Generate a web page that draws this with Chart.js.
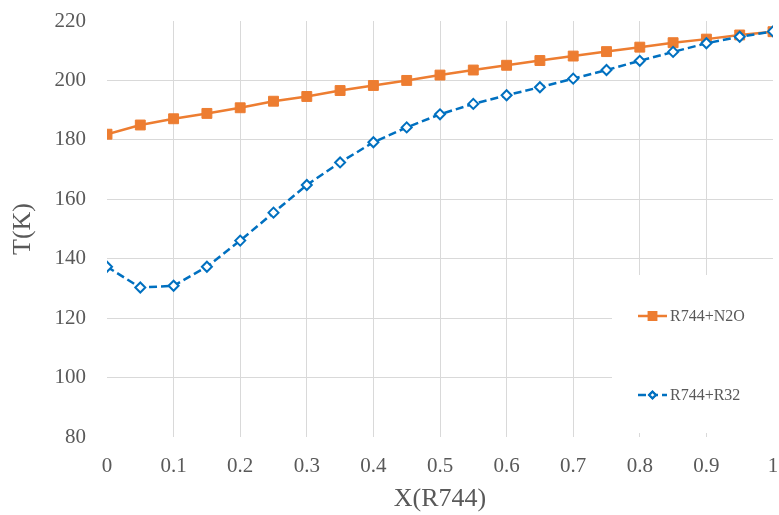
<!DOCTYPE html>
<html lang="en">

<head>
    <meta charset="UTF-8">
    <script src="https://cdn.jsdelivr.net/npm/chart.js"></script>
    <title>T vs X(R744)</title>
    <style>
        body { margin: 0; background: #fff; }
        canvas { display: block; }
    </style>
</head>

<body>
    <canvas id="grafico" width="779" height="515"></canvas>
</body>
<script>

    // composition of R744 (x axis)
    var fracR744 = [0, 0.05, 0.1, 0.15, 0.2, 0.25, 0.3, 0.35, 0.4, 0.45, 0.5,
        0.55, 0.6, 0.65, 0.7, 0.75, 0.8, 0.85, 0.9, 0.95, 1];

    // temperatures (K)
    var tempN2O = [181.9, 185.0, 187.1, 188.9, 190.8, 193.0, 194.6, 196.6, 198.3, 200.0, 201.8,
        203.5, 205.1, 206.7, 208.2, 209.7, 211.2, 212.7, 213.9, 215.3, 216.4];
    var tempR32 = [137.3, 130.3, 130.9, 137.3, 146.1, 155.5, 164.8, 172.4, 179.2, 184.2, 188.6,
        192.1, 195.0, 197.7, 200.6, 203.5, 206.6, 209.6, 212.5, 214.7, 216.5];

    var serieNomes = ['R744+N2O', 'R744+R32'];
    var xTickLabels = ['0', '0.1', '0.2', '0.3', '0.4', '0.5', '0.6', '0.7', '0.8', '0.9', '1'];
    var yMin = 80, yMax = 220, yStep = 20;
    var xMin = 0, xMax = 1, xStep = 0.1;

    var cinza = '#595959';
    var grade = '#d9d9d9';
    var fonte = '"Liberation Serif", "Times New Roman", serif';

    function pontos(valores) {
        let lista = [];
        for (let i = 0; i < fracR744.length; i++) {
            lista.push({ x: fracR744[i], y: valores[i] });
        }
        return lista;
    }

    // legend inside the plot, on a white box over the grid
    const legendaDentro = {
        id: 'legendaDentro',
        beforeDatasetsDraw(chart) {
            const ctx = chart.ctx;
            ctx.save();
            ctx.fillStyle = '#fff';
            ctx.fillRect(612, 275, chart.width - 612, 158);
            ctx.restore();
        },
        afterDraw(chart) {
            const ctx = chart.ctx;
            const linhas = [316, 395];
            ctx.save();
            chart.data.datasets.forEach(function (ds, i) {
                let y = linhas[i];
                ctx.strokeStyle = ds.borderColor;
                ctx.lineWidth = ds.borderWidth;
                ctx.setLineDash(ds.borderDash || []);
                ctx.beginPath();
                ctx.moveTo(638, y);
                ctx.lineTo(667, y);
                ctx.stroke();
                ctx.setLineDash([]);
                Chart.helpers.drawPoint(ctx, {
                    pointStyle: ds.pointStyle,
                    radius: i == 0 ? 5.2 : 3.2,
                    borderWidth: ds.pointBorderWidth,
                    rotation: 0
                }, 652.5, y);
                ctx.fillStyle = ds.pointBackgroundColor;
                ctx.strokeStyle = ds.pointBorderColor;
                ctx.lineWidth = ds.pointBorderWidth;
                ctx.fill();
                ctx.stroke();
                ctx.fillStyle = cinza;
                ctx.font = '16px ' + fonte;
                ctx.textBaseline = 'middle';
                ctx.fillText(ds.label, 670, y + 1);
            });
            ctx.restore();
        }
    };

    const ctx = document.getElementById('grafico').getContext('2d');
    new Chart(ctx, {
        type: 'line',
        data: {
            datasets: [
                {
                    label: serieNomes[0],
                    data: pontos(tempN2O),
                    borderColor: '#ED7D31',
                    backgroundColor: '#ED7D31',
                    borderWidth: 2.5,
                    pointStyle: 'rect',
                    pointRadius: 7,
                    pointBackgroundColor: '#ED7D31',
                    pointBorderColor: '#ED7D31',
                    pointBorderWidth: 1,
                    order: 1
                },
                {
                    label: serieNomes[1],
                    data: pontos(tempR32),
                    borderColor: '#0070C0',
                    backgroundColor: '#fff',
                    borderWidth: 2.5,
                    borderDash: [8, 4],
                    pointStyle: 'rectRot',
                    pointRadius: 5,
                    pointBackgroundColor: '#fff',
                    pointBorderColor: '#0070C0',
                    pointBorderWidth: 2,
                    order: 0
                }
            ]
        },
        options: {
            responsive: false,
            animation: false,
            layout: { autoPadding: false, padding: { top: 21, right: 6, left: 0, bottom: 0 } },
            plugins: {
                legend: { display: false },
                tooltip: { enabled: false }
            },
            scales: {
                x: {
                    type: 'linear',
                    min: xMin,
                    max: xMax,
                    border: { display: false },
                    grid: {
                        drawTicks: true,
                        tickLength: 17,
                        tickColor: 'rgba(0,0,0,0)',
                        color: function (c) {
                            let v = c.tick ? c.tick.value : 0;
                            return (v <= xMin + 1e-9 || v >= xMax - 1e-9) ? 'rgba(0,0,0,0)' : grade;
                        }
                    },
                    ticks: {
                        stepSize: xStep,
                        padding: 0,
                        color: cinza,
                        font: { family: fonte, size: 21 },
                        callback: function (v, i) { return xTickLabels[i]; }
                    },
                    title: {
                        display: true,
                        text: 'X(R744)',
                        color: cinza,
                        font: { family: fonte, size: 26 },
                        padding: { top: 0, bottom: 0 }
                    },
                    afterFit: function (axis) { axis.height = 78; }
                },
                y: {
                    min: yMin,
                    max: yMax,
                    border: { display: false },
                    grid: {
                        drawTicks: true,
                        tickLength: 21,
                        tickColor: 'rgba(0,0,0,0)',
                        color: function (c) {
                            let v = c.tick ? c.tick.value : 0;
                            return (v <= yMin || v >= yMax) ? 'rgba(0,0,0,0)' : grade;
                        }
                    },
                    ticks: {
                        stepSize: yStep,
                        padding: 0,
                        color: cinza,
                        font: { family: fonte, size: 21 }
                    },
                    title: {
                        display: true,
                        text: 'T(K)',
                        color: cinza,
                        font: { family: fonte, size: 26 },
                        padding: { top: 8, bottom: 0 }
                    },
                    afterFit: function (axis) { axis.width = 107; }
                }
            }
        },
        plugins: [legendaDentro]
    });

</script>

</html>
